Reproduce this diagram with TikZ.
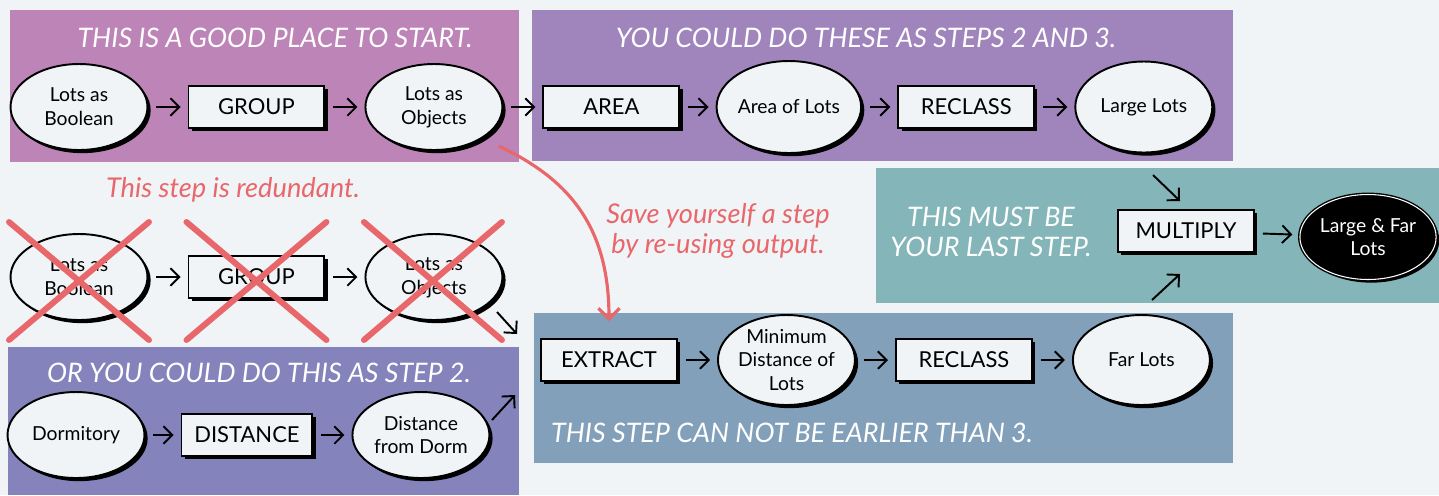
\documentclass[tikz,border=0pt]{standalone}
\usepackage{fontspec}
\setmainfont{Lato}
\usepackage{tikz}
\usetikzlibrary{shapes.geometric,arrows.meta}
\usetikzlibrary{positioning,shadows}
\definecolor{bgcol}{HTML}{F1F4F7}
\definecolor{pinkcol}{HTML}{BD84B8}
\definecolor{purpcol}{HTML}{A085BD}
\definecolor{tealcol}{HTML}{84B5B8}
\definecolor{bluecol}{HTML}{82A0BA}
\definecolor{violcol}{HTML}{8483BB}
\definecolor{redcol}{HTML}{E8676B}
\tikzset{
  shade/.style={drop shadow={shadow xshift=1.8pt,shadow yshift=-1.8pt,fill=black,opacity=1}},
  dataset/.style={ellipse, draw, line width=1.1pt, fill=bgcol, shade, inner sep=0pt,
    minimum width=2.74cm, minimum height=1.72cm, align=center,
    font=\fontsize{11}{13.5}\selectfont},
  tool/.style={rectangle, draw, line width=1.1pt, fill=bgcol, shade,
    minimum width=2.72cm, minimum height=0.84cm, font=\fontsize{12.5}{14}\selectfont},
  heading/.style={text=white, font=\itshape\fontsize{15.3}{16.8}\selectfont},
  note/.style={text=redcol, font=\itshape\fontsize{15.5}{16.8}\selectfont},
  flow/.style={->, line width=1.1pt, shorten <=0.16cm, shorten >=0.14cm},
  cross/.style={draw=redcol, line width=3.4pt, line cap=round}
}

\begin{document}
\begin{tikzpicture}[x=0.02cm, y=-0.02cm, > = {Straight Barb[length=5pt,width=10pt]},
    node distance=3.55cm, on grid]
        % panels
        \useasboundingbox (0,0) rectangle (1439,495);
        \fill[bgcol]   (0,0)     rectangle (1439,495);
        \fill[pinkcol] (10,10)   rectangle (519,162);
        \fill[purpcol] (532,10)  rectangle (1233,161);
        \fill[tealcol] (876,168) rectangle (1439,303);
        \fill[bluecol] (534,313) rectangle (1233,463);
        \fill[violcol] (8,347)   rectangle (519,495);

        \node[heading] (head_a) at (275,38)  {THIS IS A GOOD PLACE TO START.};
        \node[heading] (head_b) at (866,38)  {YOU COULD DO THESE AS STEPS 2 AND 3.};
        \node[heading] (head_c) at (259,373) {OR YOU COULD DO THIS AS STEP 2.};
        \node[heading,anchor=west] (head_d) at (545,433) {THIS STEP CAN NOT BE EARLIER THAN 3.};
        \node[heading,align=center] (head_e) at (991,232) {THIS MUST BE\\YOUR LAST STEP.};
        \node[note] (note_a) at (233,190) {This step is redundant.};
        \node[note,align=center] (note_b) at (718,231) {Save yourself a step\\by re-using output.};

        % top row
        \node[dataset]                     (bool_a)    at (79,107)           {Lots as\\Boolean};
        \node[tool]                        (group_a)   [right=of bool_a]     {GROUP};
        \node[dataset]                     (obj_a)     [right=of group_a]    {Lots as\\Objects};
        \node[tool]                        (area_t)    [right=of obj_a]      {AREA};
        \node[dataset,minimum height=1.84cm] (area_d)  [right=of area_t]     {Area of Lots};
        \node[tool]                        (reclass_a) [right=of area_d]     {RECLASS};
        \node[dataset,minimum height=1.82cm] (large)   [right=of reclass_a]  {Large Lots};

        % redundant row
        \node[dataset]                     (bool_b)    at (79,277)           {Lots as\\Boolean};
        \node[tool]                        (group_b)   [right=of bool_b]     {GROUP};
        \node[dataset]                     (obj_b)     [right=of group_b]    {Lots as\\Objects};

        % distance row
        \node[dataset]                     (dorm)      at (76,435)           {Dormitory};
        \node[tool,minimum width=2.62cm]   (dist_t)    [right=3.42cm of dorm]   {DISTANCE};
        \node[dataset]                     (dist_d)    [right=3.48cm of dist_t] {Distance\\from Dorm};

        % extract row
        \node[tool]                        (extract)   at (609,360)          {EXTRACT};
        \node[dataset,minimum height=1.8cm] (min_dist) [right=of extract]    {Minimum\\Distance of\\Lots};
        \node[tool]                        (reclass_b) [right=of min_dist]   {RECLASS};
        \node[dataset,minimum height=1.8cm] (far)      [right=of reclass_b]  {Far Lots};

        % last step
        \node[tool]                        (multiply)  at (1186,231)         {MULTIPLY};
        \node[dataset,fill=black,text=white,draw=black,double=white,double distance=0.6pt,
              line width=0.8pt,minimum width=2.66cm,minimum height=1.7cm]
                                           (large_far) at (1368,237)         {Large \& Far\\Lots};

        \coordinate (obj_out)    at (497,312);
        \coordinate (extract_i1) at (517,334);
        \coordinate (dist_out)   at (492,420);
        \coordinate (extract_i2) at (515,395);
        \coordinate (large_out)  at (1153,175);
        \coordinate (mult_i1)    at (1180,201);
        \coordinate (far_out)    at (1152,300);
        \coordinate (mult_i2)    at (1180,274);

        \draw[flow] (bool_a) -- (group_a);
        \draw[flow] (group_a) -- (obj_a);
        \draw[flow] (obj_a) -- (area_t);
        \draw[flow] (area_t) -- (area_d);
        \draw[flow] (area_d) -- (reclass_a);
        \draw[flow] (reclass_a) -- (large);
        \draw[flow] (bool_b) -- (group_b);
        \draw[flow] (group_b) -- (obj_b);
        \draw[flow] (dorm) -- (dist_t);
        \draw[flow] (dist_t) -- (dist_d);
        \draw[flow] (extract) -- (min_dist);
        \draw[flow] (min_dist) -- (reclass_b);
        \draw[flow] (reclass_b) -- (far);
        \draw[flow] (multiply) -- (large_far);
        \draw[->,line width=1.1pt] (obj_out) -- (extract_i1);
        \draw[->,line width=1.1pt] (dist_out) -- (extract_i2);
        \draw[->,line width=1.1pt] (large_out) -- (mult_i1);
        \draw[->,line width=1.1pt] (far_out) -- (mult_i2);

        % re-use arrow
        \draw[redcol,line width=1.8pt,-{Straight Barb[length=6pt,width=12pt]},
              shorten <=0.36cm, shorten >=0.34cm]
              (obj_a.-33) .. controls +(90,42) and +(0,-130) .. (extract);

        % crossed out
        \draw[cross] ([shift={(-70,-55)}]bool_b.center) -- ([shift={(70,63)}]bool_b.center)
                     ([shift={(70,-55)}]bool_b.center) -- ([shift={(-70,63)}]bool_b.center);
        \draw[cross] ([shift={(-70,-55)}]group_b.center) -- ([shift={(70,63)}]group_b.center)
                     ([shift={(70,-55)}]group_b.center) -- ([shift={(-70,63)}]group_b.center);
        \draw[cross] ([shift={(-70,-55)}]obj_b.center) -- ([shift={(68,63)}]obj_b.center)
                     ([shift={(68,-55)}]obj_b.center) -- ([shift={(-70,63)}]obj_b.center);
\end{tikzpicture}
\end{document}
